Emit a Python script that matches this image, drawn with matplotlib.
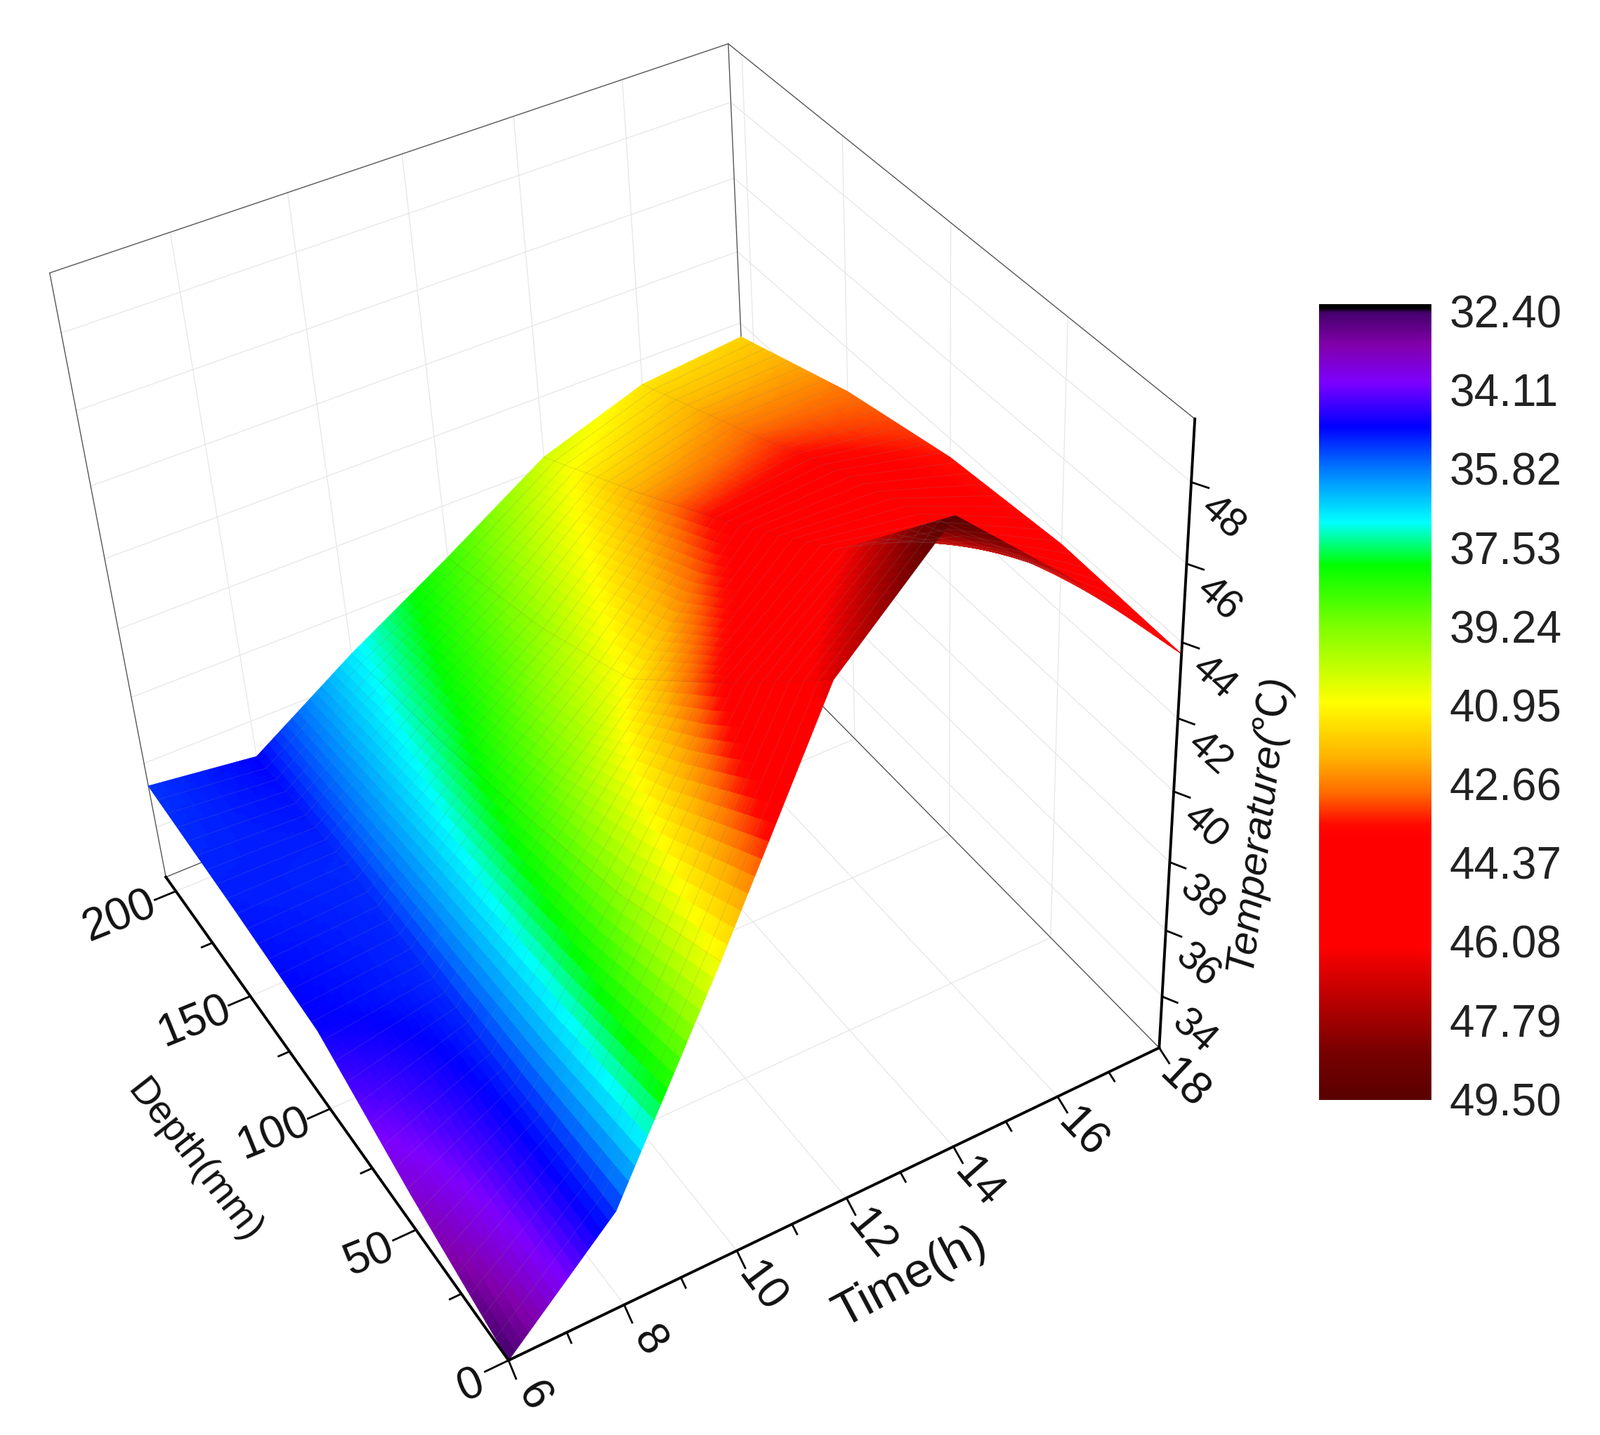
import numpy as np
import matplotlib
matplotlib.use("Agg")
import matplotlib.pyplot as plt
from matplotlib.colors import LinearSegmentedColormap
from mpl_toolkits.mplot3d import Axes3D, proj3d  # noqa

# ---------- data ----------
times = [6, 8, 10, 12, 14, 16, 18]
depths = [0, 50, 100, 150, 207]
temp_d0 = [32.4, 35.3, 40.9, 46.8, 49.5, 46.8, 43.7]
temp_d50 = [33.5, 35.2, 39.4, 43.8, 46.0, 45.3, 43.8]
temp_d100 = [34.85, 35.2, 38.4, 41.0, 44.0, 44.2, 43.5]
temp_d150 = [35.1, 35.2, 37.5, 39.6, 42.2, 42.8, 42.8]
temp_d200 = [35.3, 34.9, 36.8, 38.5, 40.3, 41.3, 41.6]

time_major = [6, 8, 10, 12, 14, 16, 18]
time_minor = [7, 9, 11, 13, 15, 17]
depth_major = [0, 50, 100, 150, 200]
depth_minor = [25, 75, 125, 175]
temp_major = [34, 36, 38, 40, 42, 44, 46, 48]
bar_ticks = [32.40, 34.11, 35.82, 37.53, 39.24, 40.95, 42.66, 44.37, 46.08, 47.79, 49.50]

bar_values = [32.245, 32.33, 32.43, 33.13, 33.95, 34.91, 35.81, 36.98, 37.91, 39.3,
              40.9, 42.08, 42.84, 43.55, 43.85, 46.2, 47.3, 48.5, 49.52]
bar_colors = ['#000000', '#000000', '#46006e', '#8200aa', '#7d00ff', '#0000ff', '#0078ff',
              '#00ffff', '#00ff00', '#82ff00', '#ffff00', '#ffb400', '#ff6e00', '#ff0a00',
              '#ff0000', '#ff0000', '#be0000', '#780000', '#5a0000']

W, H = 2278, 2043
S = 2278 / 1568
Z0, Z1 = 32.4, 49.5
D1 = 207
FONT = 'Liberation Sans'

# camera: where reference points of the box fall in the shrunk picture
cam_data = [(6, 0, Z0), (18, 0, Z0), (6, D1, Z0), (18, D1, Z0),
            (18, 0, Z1), (6, D1, Z1), (18, D1, Z1),
            (18, 50, Z1), (18, 100, Z1), (18, 150, Z1),
            (6, 50, Z0), (6, 100, Z0), (6, 150, Z0), (6, 200, Z0),
            (8, 0, Z0), (12, 0, Z0), (16, 0, Z0),
            (18, 0, 44), (18, 0, 40), (18, 0, 36)]
cam_px = [(497, 1332), (1135, 1027), (162, 858), (738, 622),
          (1170, 407), (48, 268), (711, 42),
          (1047, 309), (933, 218), (830, 137),
          (407, 1205), (325, 1088), (247, 978), (172, 873),
          (610, 1279), (832, 1172), (1040, 1075),
          (1157, 629), (1149, 777), (1141, 915)]

fig = plt.figure(figsize=(W / 100, H / 100), dpi=100, facecolor='white')
ax = fig.add_axes([0, -0.0575, 1, 1.115], projection='3d')
ax.computed_zorder = False
ax.set_axis_off()
ax.set_xlim(6, 18); ax.set_ylim(0, D1); ax.set_zlim(Z0, Z1)


def fitted_proj():
    inv = ax.transData.inverted()
    px = np.array(cam_px, float) * S
    px[:, 1] = H - px[:, 1]
    uv = inv.transform(px)
    rows = []
    for (x, y, z), (u, v) in zip(cam_data, uv):
        X = [(x - 6) / 12, y / D1, (z - Z0) / (Z1 - Z0), 1]
        rows.append(X + [0, 0, 0, 0] + [-u * c for c in X])
        rows.append([0, 0, 0, 0] + X + [-v * c for c in X])
    p = np.linalg.svd(np.array(rows))[2][-1].reshape(3, 4)
    if p[2, 3] < 0:
        p = -p
    p = p / p[2, 3]
    norm = np.array([[1 / 12, 0, 0, -0.5], [0, 1 / D1, 0, 0],
                     [0, 0, 1 / (Z1 - Z0), -Z0 / (Z1 - Z0)], [0, 0, 0, 1]])
    p = p @ norm
    return np.array([p[0], p[1], [0, 0, 0, -1], p[2]])


ax.get_proj = fitted_proj
ax.apply_aspect()
M_now = fitted_proj()


def label_at(t, d, z, dx, dy, s, **kw):
    """Text anchored on a 3D tick position, shifted by (dx, dy) shrunk-picture pixels."""
    u, v, _ = proj3d.proj_transform(t, d, z, M_now)
    px, py = ax.transData.transform((float(u), float(v)))
    fig.text((px + dx * S) / W, (py - dy * S) / H, s, ha='center', va='center',
             rotation_mode='anchor', color='#111111', family=FONT, **kw)


# ---------- walls ----------
GRID = dict(color='#e6e6e6', lw=0.9, zorder=1)
for t in time_major[1:-1]:
    ax.plot([t, t], [D1, D1], [Z0, Z1], **GRID)
    ax.plot([t, t], [0, D1], [Z0, Z0], **GRID)
for d in depth_major[1:]:
    ax.plot([18, 18], [d, d], [Z0, Z1], **GRID)
    ax.plot([6, 18], [d, d], [Z0, Z0], **GRID)
for z in temp_major:
    ax.plot([6, 18], [D1, D1], [z, z], **GRID)
    ax.plot([18, 18], [0, D1], [z, z], **GRID)
BOX = dict(color='#555555', lw=1.0, zorder=1.5)
ax.plot([6, 6], [D1, D1], [Z0, Z1], **BOX)
ax.plot([18, 18], [D1, D1], [Z0, Z1], **BOX)
ax.plot([6, 18], [D1, D1], [Z1, Z1], **BOX)
ax.plot([18, 18], [0, D1], [Z1, Z1], **BOX)
ax.plot([6, 18], [D1, D1], [Z0, Z0], **BOX)
ax.plot([18, 18], [0, D1], [Z0, Z0], **BOX)

# ---------- surface ----------
temps = np.array([temp_d0, temp_d50, temp_d100, temp_d150, temp_d200], float)
cmap = LinearSegmentedColormap.from_list(
    'origin', [((v - bar_values[0]) / (bar_values[-1] - bar_values[0]), c)
               for v, c in zip(bar_values, bar_colors)], N=512)
vmin, vmax = bar_values[0], bar_values[-1]


def refine(tf, df):
    row = np.array([np.interp(tf, times, r) for r in temps])
    return np.array([np.interp(df, depths, c) for c in row.T]).T


# render mesh: each measured cell is split for smooth colouring
tf = np.linspace(6, 18, 12 * 8 + 1)
df = np.linspace(0, D1, 129)
fine = refine(tf, df)
Tg, Dg = np.meshgrid(tf, df)
mid = (fine[:-1, :-1] + fine[1:, :-1] + fine[:-1, 1:] + fine[1:, 1:]) / 4
fc = cmap((mid - vmin) / (vmax - vmin))
surf = ax.plot_surface(Tg, Dg, fine, facecolors=fc, rcount=fine.shape[0], ccount=fine.shape[1],
                       shade=False, zorder=2, antialiased=True)
surf.set_edgecolor(fc.reshape(-1, 4))
surf.set_linewidth(0.7)
# faint mesh lines of the surface
for d in np.linspace(0, D1, 33)[1:-1]:
    zs = refine(tf, np.array([d]))[0]
    ax.plot(tf, np.full_like(tf, d), zs, color=(0.5, 0.5, 0.5, 0.16), lw=1.0, zorder=2.1)
for t in times[1:-1]:
    zs = refine(np.array([t]), df)[:, 0]
    ax.plot(np.full_like(df, t), df, zs, color=(0.3, 0.3, 0.3, 0.10), lw=1.0, zorder=2.1)

# ---------- axes ----------
AX = dict(color='black', lw=2.8, zorder=3, solid_capstyle='projecting')
ax.plot([6, 18], [0, 0], [Z0, Z0], **AX)
ax.plot([6, 6], [0, D1], [Z0, Z0], **AX)
ax.plot([18, 18], [0, 0], [Z0, Z1], **AX)
TK = dict(color='black', lw=2.0, zorder=3)
for t in time_major:
    ax.plot([t, t - 0.07], [0, -6], [Z0, Z0], **TK)
for t in time_minor:
    ax.plot([t, t - 0.04], [0, -3.5], [Z0, Z0], **TK)
for d in depth_major:
    ax.plot([6, 5.6], [d, d], [Z0, Z0], **TK)
for d in depth_minor:
    ax.plot([6, 5.8], [d, d], [Z0, Z0], **TK)
for z in temp_major:
    ax.plot([18, 18.12], [0, -4], [z, z], **TK)

for t in time_major:
    label_at(t, 0, Z0, 24, 36, str(t), fontsize=46, rotation=-58 + (t - 6) * 1.2)
for d in depth_major:
    label_at(6, d, Z0, -(28 + 9 * len(str(d))), 25, str(d), fontsize=46, rotation=22)
for z in temp_major:
    label_at(18, 0, z, 31, 35, str(z), fontsize=41, rotation=-42)


def fig_text(x, y, s, **kw):
    fig.text(x * S / W, 1 - y * S / H, s, ha='center', va='center', rotation_mode='anchor',
             color='#111111', **kw)


fig_text(190, 1138, 'Depth(mm)', fontsize=40, rotation=-52, family=FONT)
fig_text(892, 1252, 'Time(h)', fontsize=50, rotation=28, family=FONT)
fig_text(1232, 806, 'Temperature(℃)', fontsize=42, rotation=83, style='italic',
         family=[FONT, 'Noto Sans CJK SC'])

# ---------- colour bar ----------
left, right, top, bottom = 1293 * S, 1403 * S, 298 * S, 1078 * S
cax = fig.add_axes([left / W, 1 - bottom / H, (right - left) / W, (bottom - top) / H])
grad = np.linspace(vmin, vmax, 1024).reshape(-1, 1)
cax.imshow(grad, cmap=cmap, aspect='auto', extent=[0, 1, vmax, vmin], vmin=vmin, vmax=vmax,
           interpolation='bilinear')
cax.set_xticks([])
cax.yaxis.tick_right()
cax.set_yticks(bar_ticks)
cax.set_yticklabels([f'{v:.2f}' for v in bar_ticks], fontsize=46, family=FONT, color='#222222')
cax.tick_params(axis='y', length=0, pad=18)
for s in cax.spines.values():
    s.set_visible(False)

fig.savefig('out.png', dpi=100, facecolor='white')
